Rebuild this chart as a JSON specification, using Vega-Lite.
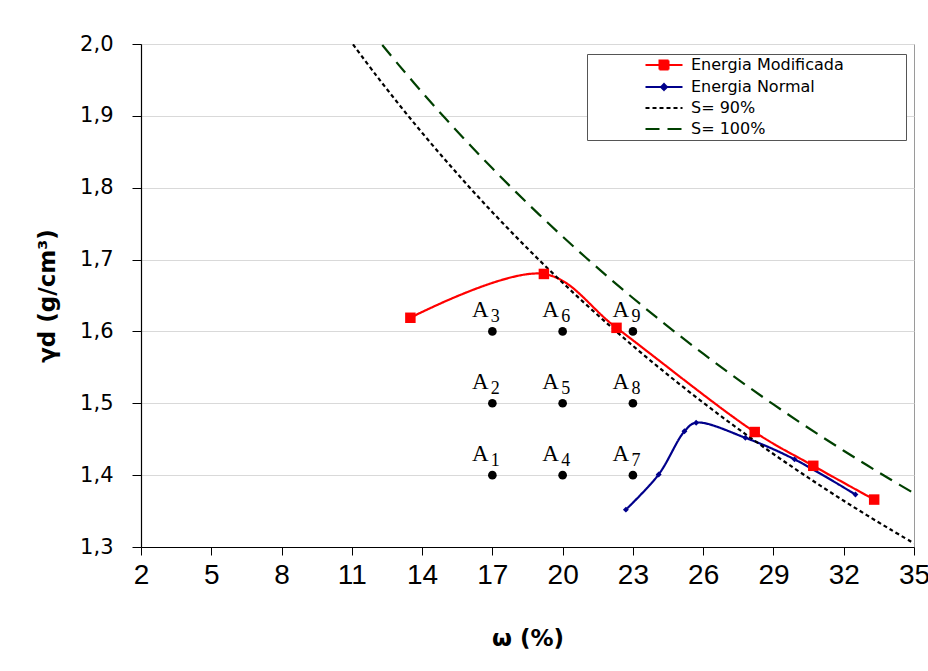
{
  "$schema": "https://vega.github.io/schema/vega-lite/v6.json",
  "autosize": {"type": "none"},
  "width": 773,
  "height": 503,
  "padding": {"left": 141, "top": 44, "right": 14, "bottom": 124},
  "background": "white",
  "config": {
    "view": {"stroke": "#9a9a9a", "strokeWidth": 1},
    "font": "Liberation Sans",
    "axis": {"domainColor": "#000", "tickColor": "#000", "labelColor": "#000", "titleColor": "#000"}
  },
  "datasets": {
    "series": [
      {"series": "Energia Modificada", "w": 13.5, "gd": 1.619},
      {"series": "Energia Modificada", "w": 19.2, "gd": 1.68},
      {"series": "Energia Modificada", "w": 22.3, "gd": 1.605},
      {"series": "Energia Modificada", "w": 28.2, "gd": 1.46},
      {"series": "Energia Modificada", "w": 30.7, "gd": 1.413},
      {"series": "Energia Modificada", "w": 33.3, "gd": 1.366},
      {"series": "Energia Normal", "w": 22.7, "gd": 1.352},
      {"series": "Energia Normal", "w": 24.1, "gd": 1.401},
      {"series": "Energia Normal", "w": 25.2, "gd": 1.461},
      {"series": "Energia Normal", "w": 25.7, "gd": 1.473},
      {"series": "Energia Normal", "w": 27.8, "gd": 1.452},
      {"series": "Energia Normal", "w": 29.9, "gd": 1.422},
      {"series": "Energia Normal", "w": 32.5, "gd": 1.373},
      {"series": "S= 90%", "w": 11.05, "gd": 1.9995},
      {"series": "S= 90%", "w": 12, "gd": 1.9581},
      {"series": "S= 90%", "w": 13, "gd": 1.9164},
      {"series": "S= 90%", "w": 14, "gd": 1.8765},
      {"series": "S= 90%", "w": 15, "gd": 1.8382},
      {"series": "S= 90%", "w": 16, "gd": 1.8014},
      {"series": "S= 90%", "w": 17, "gd": 1.766},
      {"series": "S= 90%", "w": 18, "gd": 1.732},
      {"series": "S= 90%", "w": 19, "gd": 1.6993},
      {"series": "S= 90%", "w": 20, "gd": 1.6678},
      {"series": "S= 90%", "w": 21, "gd": 1.6375},
      {"series": "S= 90%", "w": 22, "gd": 1.6082},
      {"series": "S= 90%", "w": 23, "gd": 1.58},
      {"series": "S= 90%", "w": 24, "gd": 1.5527},
      {"series": "S= 90%", "w": 25, "gd": 1.5264},
      {"series": "S= 90%", "w": 26, "gd": 1.5009},
      {"series": "S= 90%", "w": 27, "gd": 1.4763},
      {"series": "S= 90%", "w": 28, "gd": 1.4525},
      {"series": "S= 90%", "w": 29, "gd": 1.4294},
      {"series": "S= 90%", "w": 30, "gd": 1.4071},
      {"series": "S= 90%", "w": 31, "gd": 1.3854},
      {"series": "S= 90%", "w": 32, "gd": 1.3644},
      {"series": "S= 90%", "w": 33, "gd": 1.344},
      {"series": "S= 90%", "w": 34, "gd": 1.3243},
      {"series": "S= 90%", "w": 35, "gd": 1.3051},
      {"series": "S= 100%", "w": 12.3, "gd": 1.9986},
      {"series": "S= 100%", "w": 13, "gd": 1.971},
      {"series": "S= 100%", "w": 14, "gd": 1.9329},
      {"series": "S= 100%", "w": 15, "gd": 1.8962},
      {"series": "S= 100%", "w": 16, "gd": 1.861},
      {"series": "S= 100%", "w": 17, "gd": 1.827},
      {"series": "S= 100%", "w": 18, "gd": 1.7942},
      {"series": "S= 100%", "w": 19, "gd": 1.7626},
      {"series": "S= 100%", "w": 20, "gd": 1.732},
      {"series": "S= 100%", "w": 21, "gd": 1.7025},
      {"series": "S= 100%", "w": 22, "gd": 1.674},
      {"series": "S= 100%", "w": 23, "gd": 1.6465},
      {"series": "S= 100%", "w": 24, "gd": 1.6198},
      {"series": "S= 100%", "w": 25, "gd": 1.594},
      {"series": "S= 100%", "w": 26, "gd": 1.569},
      {"series": "S= 100%", "w": 27, "gd": 1.5447},
      {"series": "S= 100%", "w": 28, "gd": 1.5212},
      {"series": "S= 100%", "w": 29, "gd": 1.4984},
      {"series": "S= 100%", "w": 30, "gd": 1.4763},
      {"series": "S= 100%", "w": 31, "gd": 1.4549},
      {"series": "S= 100%", "w": 32, "gd": 1.434},
      {"series": "S= 100%", "w": 33, "gd": 1.4137},
      {"series": "S= 100%", "w": 34, "gd": 1.394},
      {"series": "S= 100%", "w": 35, "gd": 1.3748}
    ],
    "samples": [
      {"w": 17, "gd": 1.4, "letter": "A", "sub": "1"},
      {"w": 17, "gd": 1.5, "letter": "A", "sub": "2"},
      {"w": 17, "gd": 1.6, "letter": "A", "sub": "3"},
      {"w": 20, "gd": 1.4, "letter": "A", "sub": "4"},
      {"w": 20, "gd": 1.5, "letter": "A", "sub": "5"},
      {"w": 20, "gd": 1.6, "letter": "A", "sub": "6"},
      {"w": 23, "gd": 1.4, "letter": "A", "sub": "7"},
      {"w": 23, "gd": 1.5, "letter": "A", "sub": "8"},
      {"w": 23, "gd": 1.6, "letter": "A", "sub": "9"}
    ]
  },
  "encoding": {
    "x": {
      "field": "w", "type": "quantitative",
      "scale": {"domain": [2, 35], "nice": false, "zero": false},
      "axis": {
        "title": "ω (%)", "values": [2, 5, 8, 11, 14, 17, 20, 23, 26, 29, 32, 35],
        "grid": false, "tickSize": 8, "labelPadding": 6, "labelFont": "Liberation Sans", "labelFontSize": 28, "labelFlush": false,
        "titleFont": "DejaVu Sans", "titleFontSize": 23, "titleFontWeight": "bold", "titlePadding": 38, "domainWidth": 1.2
      }
    },
    "y": {
      "field": "gd", "type": "quantitative",
      "scale": {"domain": [1.3, 2.0], "nice": false, "zero": false},
      "axis": {
        "title": "γd (g/cm³)", "values": [1.3, 1.4, 1.5, 1.6, 1.7, 1.8, 1.9, 2.0],
        "labelExpr": "replace(format(datum.value, '.1f'), '.', ',')",
        "grid": true, "gridColor": "#d9d9d9", "tickSize": 9, "labelPadding": 19,
        "labelFont": "DejaVu Sans", "labelFontSize": 21,
        "titleFont": "DejaVu Sans", "titleFontSize": 23, "titleFontWeight": "bold", "titlePadding": 20, "domainWidth": 1.2
      }
    }
  },
  "layer": [
    {
      "data": {"name": "series"},
      "mark": {"type": "line", "interpolate": "catmull-rom", "strokeWidth": 2.2, "clip": true},
      "encoding": {
        "color": {
          "field": "series", "type": "nominal",
          "scale": {"domain": ["Energia Modificada", "Energia Normal", "S= 90%", "S= 100%"], "range": ["#ff0000", "#00008b", "#000000", "#004000"]},
          "legend": {
            "title": "MMMMMMM", "titleOrient": "right", "titleFontSize": 10, "titleColor": "rgba(0,0,0,0)", "titlePadding": 0,
            "orient": "none", "legendX": 446, "legendY": 10,
            "strokeColor": "#555", "fillColor": "white", "padding": 3,
            "symbolOffset": 66, "symbolSize": 100, "symbolStrokeWidth": 2,
            "labelFont": "DejaVu Sans", "labelFontSize": 16, "labelColor": "#000", "labelLimit": 0, "labelOffset": 19,
            "rowPadding": 5,
            "encode": {
              "symbols": {
                "update": {
                  "shape": {"signal": "datum.value === 'Energia Modificada' ? 'M-3.7,0H3.7M-0.9,-0.9H0.9V0.9H-0.9Z' : datum.value === 'Energia Normal' ? 'M-3.7,0H3.7M0,-0.6L0.6,0L0,0.6L-0.6,0Z' : 'M-3.7,0H3.7'"},
                  "strokeDash": {"signal": "datum.value === 'S= 90%' ? [4, 3] : datum.value === 'S= 100%' ? [14, 8] : [100, 0]"},
                  "fill": {"signal": "scale('color', datum.value)"},
                  "stroke": {"signal": "scale('color', datum.value)"},
                  "strokeWidth": {"value": 2},
                  "opacity": {"value": 1}
                }
              }
            }
          }
        },
        "strokeDash": {
          "field": "series", "type": "nominal",
          "scale": {"domain": ["Energia Modificada", "Energia Normal", "S= 90%", "S= 100%"], "range": [[1, 0], [1, 0], [4, 3], [14, 8]]},
          "legend": null
        }
      }
    },
    {
      "data": {"name": "series"},
      "transform": [{"filter": "datum.series === 'Energia Modificada' || datum.series === 'Energia Normal'"}],
      "mark": {"type": "point", "filled": true, "opacity": 1},
      "encoding": {
        "color": {"field": "series", "type": "nominal"},
        "shape": {
          "field": "series", "type": "nominal",
          "scale": {"domain": ["Energia Modificada", "Energia Normal"], "range": ["square", "diamond"]},
          "legend": null
        },
        "size": {
          "field": "series", "type": "nominal",
          "scale": {"domain": ["Energia Modificada", "Energia Normal"], "range": [110, 35]},
          "legend": null
        }
      }
    },
    {
      "data": {"name": "samples"},
      "mark": {"type": "circle", "color": "#000", "size": 75, "opacity": 1}
    },
    {
      "data": {"name": "samples"},
      "mark": {"type": "text", "font": "Liberation Serif", "fontSize": 23, "dx": -12, "dy": -14, "align": "center", "baseline": "alphabetic", "color": "#000"},
      "encoding": {"text": {"field": "letter"}}
    },
    {
      "data": {"name": "samples"},
      "mark": {"type": "text", "font": "Liberation Serif", "fontSize": 18, "dx": 3, "dy": -9, "align": "center", "baseline": "alphabetic", "color": "#000"},
      "encoding": {"text": {"field": "sub"}}
    }
  ]
}
